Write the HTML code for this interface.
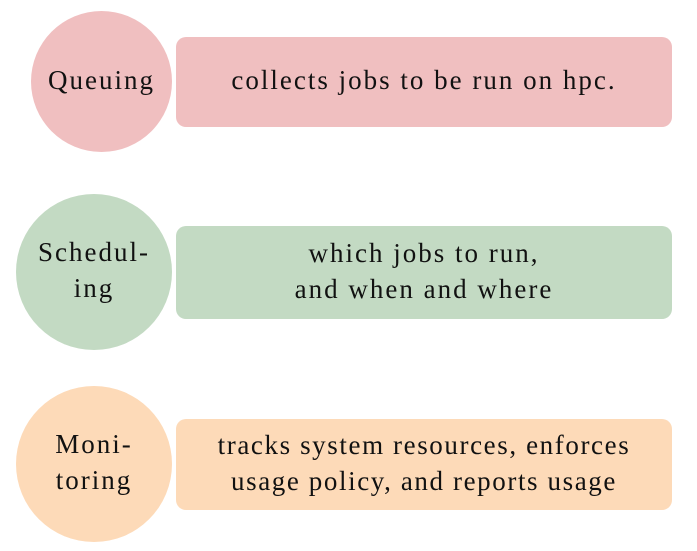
<!DOCTYPE html>
<html><head><style>
body{margin:0;width:697px;height:551px;background:#fff;position:relative;font-family:"Liberation Serif",serif;font-size:27px;letter-spacing:2px;color:#111;overflow:hidden}
.c,.b{position:absolute;display:flex;align-items:center;justify-content:center;text-align:center;line-height:36px;box-sizing:border-box;padding-bottom:4px}
.c{border-radius:50%}
.b{border-radius:10px}
.p{background:#f0bfc0}.g{background:#c3dac3}.o{background:#fddab8}
</style></head><body>
<div class="c p" style="left:31px;top:11px;width:141px;height:141px">Queuing</div>
<div class="b p" style="left:176px;top:37px;width:496px;height:90px">collects jobs to be run on hpc.</div>
<div class="c g" style="left:16px;top:194px;width:156px;height:156px">Schedul-<br>ing</div>
<div class="b g" style="left:176px;top:226px;width:496px;height:93px">which jobs to run,<br>and when and where</div>
<div class="c o" style="left:16px;top:386px;width:156px;height:156px">Moni-<br>toring</div>
<div class="b o" style="left:176px;top:419px;width:496px;height:91px;letter-spacing:1.6px">tracks system resources, enforces<br>usage policy, and reports usage</div>
</body></html>
